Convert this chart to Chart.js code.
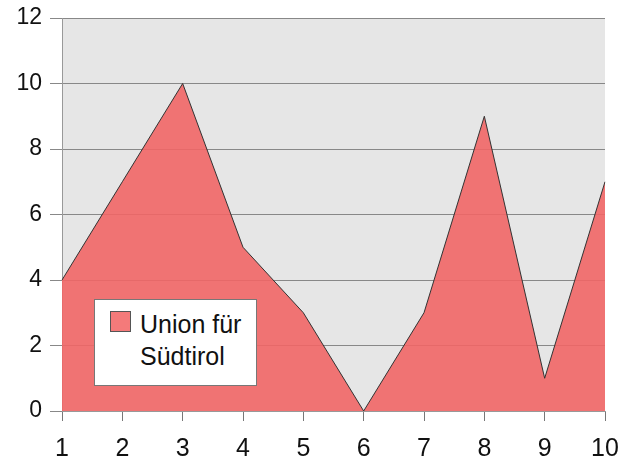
<!DOCTYPE html>
<html>
<head>
<meta charset="utf-8">
<script src="https://cdn.jsdelivr.net/npm/chart.js@4"></script>
<style>
  html, body { margin: 0; padding: 0; background: #fff; }
  #wrap { position: relative; width: 618px; height: 461px; }
  #legend {
    position: absolute; left: 94px; top: 299px; width: 163px; height: 87px;
    background: #fff; border: 1px solid #777; box-sizing: border-box;
    font-family: 'Liberation Sans', Arial, sans-serif; font-size: 25px; color: #111;
  }
  #legend .swatch {
    position: absolute; left: 15px; top: 11px; width: 21px; height: 21px;
    background: #f47a7a; border: 1px solid #555; box-sizing: border-box;
  }
  #legend .text { position: absolute; left: 45px; top: 8px; line-height: 32px; }
</style>
</head>
<body>
<div id="wrap">
  <canvas id="chart" width="618" height="461"></canvas>
  <div id="legend"><div class="swatch"></div><div class="text" id="legendText"></div></div>
</div>
<script>
const categories = ['1', '2', '3', '4', '5', '6', '7', '8', '9', '10'];
const seriesName = 'Union für Südtirol';
const values = [4, 7, 10, 5, 3, 0, 3, 9, 1, 7];

document.getElementById('legendText').innerHTML = 'Union für<br>Südtirol';

const plotBg = {
  id: 'plotBg',
  beforeDraw(chart) {
    const { ctx, chartArea: a } = chart;
    ctx.save();
    ctx.fillStyle = '#e6e6e6';
    ctx.fillRect(a.left, a.top, a.right - a.left, a.bottom - a.top);
    ctx.restore();
  }
};

new Chart(document.getElementById('chart'), {
  type: 'line',
  data: {
    labels: categories,
    datasets: [{
      label: seriesName,
      data: values,
      borderColor: '#333',
      borderWidth: 1,
      backgroundColor: 'rgba(241,102,102,0.9)',
      fill: 'origin',
      pointRadius: 0,
      tension: 0,
    }]
  },
  options: {
    responsive: false,
    animation: false,
    layout: { padding: { top: 18, right: 13, left: 0, bottom: 0 } },
    plugins: { legend: { display: false }, tooltip: { enabled: false } },
    scales: {
      x: {
        grid: { drawOnChartArea: false, color: '#777', tickLength: 10 },
        border: { color: '#999' },
        ticks: {
          color: '#111', padding: 13, maxRotation: 0,
          font: { size: 25, family: "'Liberation Sans', Arial, sans-serif" }
        },
        afterFit(s) { s.height = 50; s.paddingLeft = 0; s.paddingRight = 0; }
      },
      y: {
        min: 0, max: 12,
        grid: { color: '#888', tickLength: 12 },
        border: { color: '#999' },
        ticks: {
          stepSize: 2, color: '#111', padding: 8,
          font: { size: 23, family: "'Liberation Sans', Arial, sans-serif" }
        },
        afterFit(s) { s.width = 62; s.paddingTop = 0; s.paddingBottom = 0; }
      }
    }
  },
  plugins: [plotBg]
});
</script>
</body>
</html>
